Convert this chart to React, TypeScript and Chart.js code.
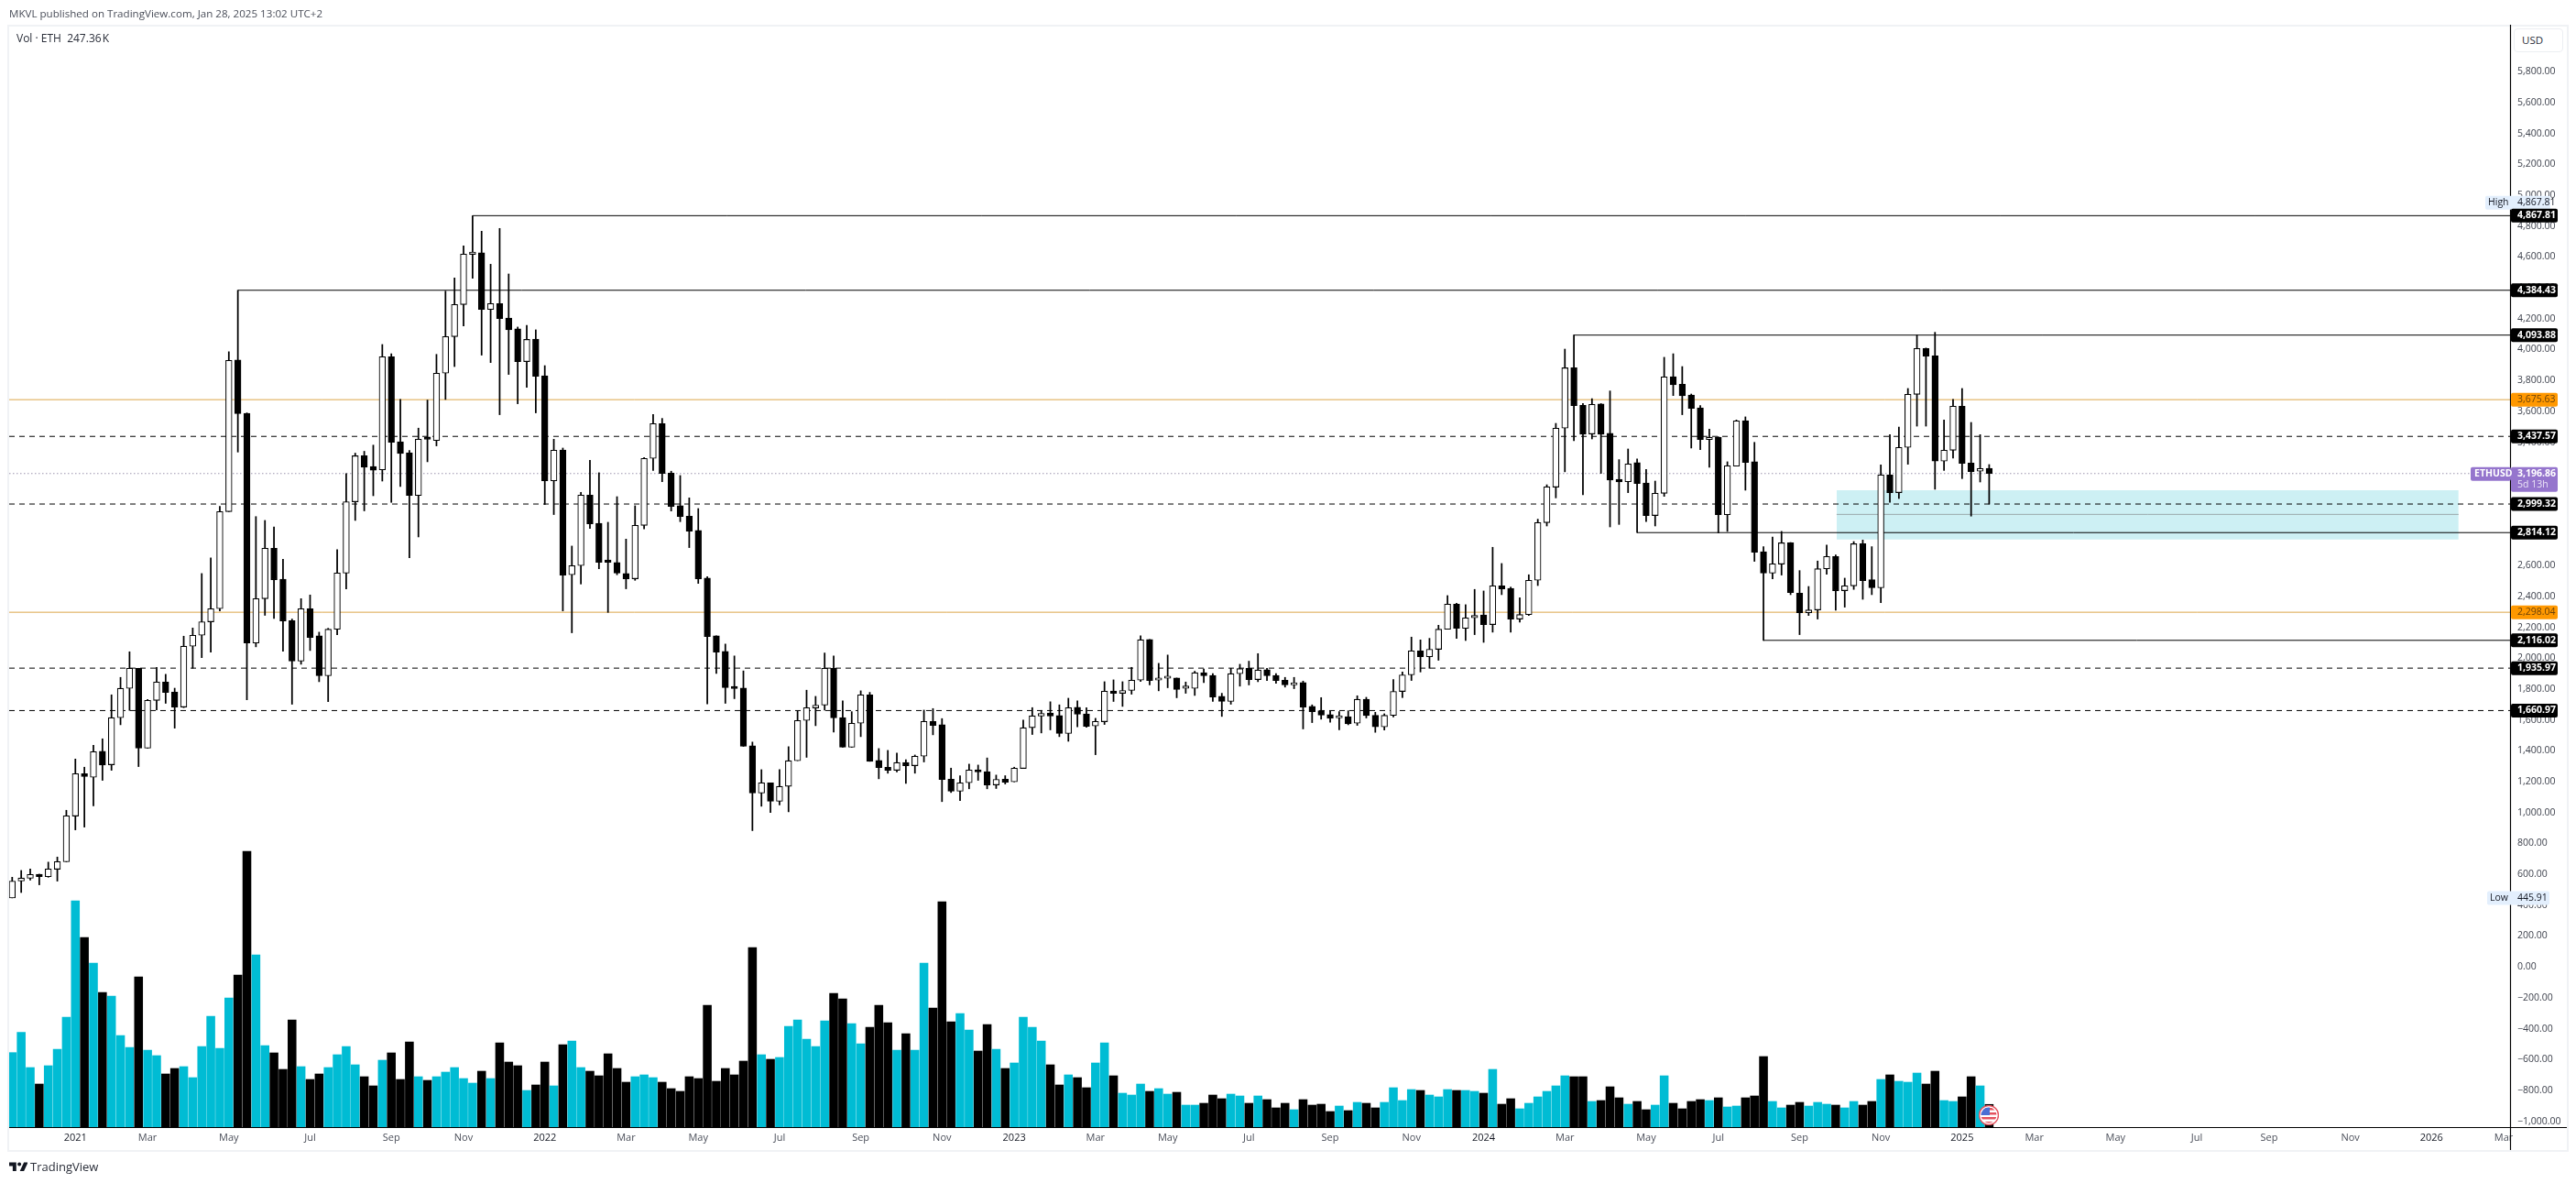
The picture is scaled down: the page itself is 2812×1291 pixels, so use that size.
import React, { useEffect, useRef } from "react";
import { Chart, registerables } from "chart.js";

Chart.register(...registerables);

const opens = [447,556,574,599,585,633,681,977,1252,1229,1397,1310,1615,1805,1935,1417,1727,1846,1781,1684,2078,2149,2236,2321,2950,3932,3587,2099,2386,2713,2512,2244,1981,2321,2145,1886,2188,2551,3014,3312,3243,3221,3954,3403,3332,3055,3420,3411,3847,4084,4292,4617,4627,4260,4298,4205,4134,3922,4068,3831,3150,3350,2541,2600,3057,2875,2625,2620,2549,2515,2861,3295,3520,3200,2988,2921,2828,2519,2145,2044,1813,1807,1433,1126,1193,1073,1170,1336,1597,1678,1696,1935,1615,1423,1579,1763,1338,1294,1274,1324,1304,1365,1591,1569,1217,1138,1193,1276,1265,1179,1217,1199,1286,1550,1625,1645,1629,1512,1682,1639,1561,1589,1787,1773,1791,1858,2122,1858,1870,1872,1805,1805,1906,1888,1753,1720,1900,1935,1862,1926,1888,1858,1827,1842,1688,1660,1635,1613,1621,1579,1734,1631,1555,1630,1785,1892,2048,2010,2058,2188,2351,2194,2262,2281,2218,2469,2453,2254,2283,2505,2879,3109,3491,3882,3639,3453,3647,3457,3160,3144,3267,3136,2925,3069,3825,3776,3706,3623,3417,3433,2930,3245,3540,3273,2691,2551,2610,2748,2422,2295,2313,2580,2659,2438,2469,2742,2509,2456,3188,3073,3366,3710,4007,3960,3277,3348,3633,3265,3212,3231];
const highs = [581,625,635,601,679,712,1015,1347,1294,1436,1478,1763,1876,2042,1935,1733,1941,1896,1806,2143,2196,2549,2650,2984,3986,4384,3590,2918,2893,2851,2642,2254,2386,2410,2169,2194,2703,3196,3329,3341,3381,4033,3973,3677,3346,3491,3673,3969,4379,4464,4672,4867,4767,4553,4785,4490,4146,4157,4128,3896,3419,3362,2727,3075,3283,3202,2881,3047,2772,2988,3300,3580,3554,3212,3184,3039,2970,2529,2145,2092,2015,1918,1457,1278,1193,1278,1427,1660,1793,1753,2034,2015,1724,1654,1789,1779,1415,1403,1385,1342,1373,1664,1674,1609,1288,1239,1314,1308,1354,1243,1239,1294,1599,1680,1662,1718,1698,1741,1724,1680,1611,1848,1860,1848,1941,2145,2122,1967,2021,1872,1846,1916,1931,1900,1773,1935,1961,1981,2030,1935,1900,1876,1876,1852,1698,1745,1658,1654,1660,1757,1747,1650,1640,1862,1911,2137,2119,2129,2214,2406,2357,2347,2446,2436,2719,2614,2461,2392,2541,2901,3124,3522,4003,4094,3650,3682,3650,3732,3287,3356,3291,3223,3148,3950,3973,3890,3712,3637,3485,3435,3273,3544,3564,3399,2723,2786,2822,2750,2568,2465,2630,2733,2669,2519,2756,2766,2723,3253,3449,3498,3748,4094,4010,4112,3544,3677,3748,3528,3449,3255];
const lows = [447,482,562,532,581,556,681,888,906,1043,1209,1274,1569,1662,1298,1417,1666,1708,1547,1680,1935,2004,2040,2307,2950,3336,1731,2074,2278,2258,2046,1702,1961,2050,1848,1719,2153,2450,2893,2955,3053,3148,3010,3113,2651,2786,3273,3376,3677,3890,4154,4462,3964,3916,3578,3839,3649,3756,3590,2996,2931,2307,2165,2481,2841,2580,2297,2541,2450,2505,2838,3217,3144,2954,2885,2717,2485,1704,1902,1708,1738,1429,883,1041,1001,1049,1005,1336,1358,1563,1664,1522,1423,1423,1492,1332,1219,1255,1263,1189,1255,1328,1504,1071,1130,1077,1154,1209,1154,1156,1185,1199,1286,1506,1516,1536,1492,1462,1555,1552,1375,1571,1720,1688,1767,1850,1827,1789,1809,1744,1773,1759,1842,1720,1623,1702,1819,1827,1848,1856,1838,1813,1803,1542,1583,1605,1585,1536,1569,1565,1613,1520,1535,1620,1745,1856,1911,1935,1987,2188,2129,2115,2153,2103,2169,2412,2169,2234,2277,2471,2857,3039,3208,3409,3059,3421,3198,2851,2867,3073,2814,2885,2857,3049,3702,3578,3362,3352,3237,2812,2822,3245,3089,2628,2116,2515,2539,2412,2153,2277,2254,2545,2311,2331,2446,2382,2412,2360,3010,3035,3257,3504,3504,3095,3217,3297,3164,2921,3142,2999];
const closes = [556,576,599,585,635,682,979,1252,1233,1395,1308,1615,1805,1935,1417,1727,1846,1779,1684,2078,2149,2236,2321,2950,3930,3585,2099,2386,2713,2509,2242,1981,2321,2135,1886,2188,2553,3014,3312,3238,3218,3954,3400,3326,3055,3419,3419,3847,4084,4292,4619,4622,4260,4298,4201,4128,3922,4066,3827,3150,3348,2539,2600,3057,2871,2622,2622,2551,2515,2861,3295,3520,3198,2984,2919,2824,2515,2141,2040,1809,1803,1429,1126,1193,1073,1170,1336,1597,1680,1696,1935,1613,1423,1579,1763,1332,1292,1274,1324,1304,1365,1591,1565,1215,1138,1193,1276,1263,1179,1215,1197,1288,1550,1627,1643,1625,1512,1680,1637,1558,1591,1787,1773,1791,1858,2120,1856,1870,1872,1797,1807,1906,1886,1749,1720,1900,1933,1862,1924,1886,1856,1827,1840,1684,1654,1631,1611,1621,1575,1734,1629,1555,1630,1785,1892,2048,2010,2058,2188,2351,2194,2262,2277,2218,2469,2450,2254,2283,2505,2879,3111,3491,3882,3637,3451,3645,3451,3154,3142,3259,3132,2925,3069,3823,3772,3700,3619,3417,3431,2930,3247,3538,3269,2687,2551,2612,2748,2426,2295,2313,2580,2659,2438,2469,2742,2503,2456,3188,3073,3366,3710,4007,3958,3277,3348,3633,3263,3210,3229,3197];
const volumes = [813,1033,650,470,670,850,1200,2470,2070,1790,1470,1430,1000,870,1640,840,780,580,640,660,540,880,1210,860,1410,1660,3010,1880,890,810,630,1170,660,520,580,650,790,880,680,550,450,730,810,520,930,550,510,550,600,650,530,480,610,530,920,710,670,400,460,710,450,900,940,650,610,560,800,640,490,550,570,540,490,420,390,550,530,1330,500,640,570,720,1960,790,740,760,1100,1170,960,880,1160,1460,1400,1130,910,1090,1330,1140,840,1020,840,1790,1300,2460,1150,1240,1060,830,1120,850,640,700,1200,1090,940,680,460,570,540,430,700,920,560,370,350,470,390,420,360,380,240,240,260,350,310,360,340,260,340,300,210,260,190,300,240,250,170,230,180,270,260,210,270,430,290,410,400,350,330,410,400,400,390,370,630,250,310,200,260,330,390,450,560,550,550,280,290,440,320,250,280,190,240,560,260,200,280,300,290,320,220,230,320,340,770,280,210,240,270,230,270,250,240,210,280,240,280,520,570,500,490,590,470,610,290,280,330,550,450,247.36];

const yTickValues = [5800,5600,5400,5200,5000,4800,4600,4400,4200,4000,3800,3600,3400,3200,3000,2800,2600,2400,2200,2000,1800,1600,1400,1200,1000,800,600,400,200,0,-200,-400,-600,-800,-1000];
const xTickIndices = [7,15,24,33,42,50,59,68,76,85,94,103,111,120,128,137,146,155,163,172,181,189,198,207,216,224,233,242,250,259,268,276];
const xTickLabels = ["2021","Mar","May","Jul","Sep","Nov","2022","Mar","May","Jul","Sep","Nov","2023","Mar","May","Jul","Sep","Nov","2024","Mar","May","Jul","Sep","Nov","2025","Mar","May","Jul","Sep","Nov","2026","Mar"];

const dashedLevels = [3437.57, 2999.32, 1935.97, 1660.97];
const orangeLevels = [3675.63, 2298.04];
const anchoredLevels = [
  { from: 25, value: 4384.43 },
  { from: 51, value: 4867.81 },
  { from: 173, value: 4093.88 },
  { from: 180, value: 2814.12 },
  { from: 194, value: 2116.02 },
];
const lastPrice = 3196.86;
const zoneTop = 3089;
const zoneBottom = 2770;
const zoneMiddle = 2932;
const zoneFrom = 202.1;
const zoneTo = 271;

const blackTags = [4867.81, 4384.43, 4093.88, 3437.57, 2999.32, 2814.12, 2116.02, 1935.97, 1660.97];
const orangeTags = [3675.63, 2298.04];
const highPrice = 4867.81;
const lowPrice = 445.91;

const X_MIN = -0.335;
const X_MAX = 276.7;
const TEAL = "#00bcd4";
const FONT = "'Open Sans', sans-serif";

const fmt = (v: number) => {
  const s = Math.abs(v).toLocaleString("en-US", { minimumFractionDigits: 2, maximumFractionDigits: 2 });
  return (v < 0 ? "\u2212" : "") + s;
};

function roundedTag(ctx: any, x: number, y: number, w: number, h: number, bg: string) {
  ctx.fillStyle = bg;
  ctx.beginPath();
  ctx.roundRect(x, y, w, h, 2);
  ctx.fill();
}

const overlayPlugin = {
  id: "overlay",
  afterDraw(chart: any) {
    const { ctx, scales } = chart;
    const yS = scales.y;
    ctx.save();
    ctx.strokeStyle = "#000";
    ctx.lineWidth = 1.2;
    ctx.beginPath();
    ctx.moveTo(2740.5, 27);
    ctx.lineTo(2740.5, 1255);
    ctx.moveTo(10, 1230.5);
    ctx.lineTo(2802, 1230.5);
    ctx.stroke();

    ctx.textBaseline = "middle";
    ctx.textAlign = "left";
    const tx = 2748;
    const tagL = 2741;
    const tagW = 51;
    const tagH = 15;

    const hy = yS.getPixelForValue(highPrice) - 14;
    roundedTag(ctx, 2713, hy - 7.5, 71, tagH, "#e3effd");
    ctx.font = `10.5px ${FONT}`;
    ctx.fillStyle = "#131722";
    ctx.fillText("High", 2716, hy);
    ctx.fillText(fmt(highPrice), tx, hy);
    const ly = yS.getPixelForValue(lowPrice);
    roundedTag(ctx, 2715, ly - 7.5, 68, tagH, "#e3effd");
    ctx.fillStyle = "#131722";
    ctx.fillText("Low", 2718, ly);
    ctx.fillText(fmt(lowPrice), tx, ly);

    for (const v of blackTags) {
      const y = yS.getPixelForValue(v);
      roundedTag(ctx, tagL, y - 7.5, tagW, tagH, "#000");
      ctx.font = `bold 10.5px ${FONT}`;
      ctx.fillStyle = "#fff";
      ctx.fillText(fmt(v), tx, y);
    }
    for (const v of orangeTags) {
      const y = yS.getPixelForValue(v);
      roundedTag(ctx, tagL, y - 7.5, tagW, tagH, "#ff9800");
      ctx.font = `10.5px ${FONT}`;
      ctx.fillStyle = "#6b4208";
      ctx.fillText(fmt(v), tx, y);
    }

    const py = yS.getPixelForValue(lastPrice);
    roundedTag(ctx, 2697, py - 7, 44, 15, "#9575cd");
    roundedTag(ctx, tagL, py - 7, tagW, 27, "#9575cd");
    ctx.fillStyle = "#fff";
    ctx.font = `bold 10.5px ${FONT}`;
    ctx.fillText("ETHUSD", 2701, py + 0.5);
    ctx.fillText(fmt(lastPrice), tx, py + 0.5);
    ctx.font = `10.5px ${FONT}`;
    ctx.fillStyle = "#ece6f7";
    ctx.fillText("5d 13h", tx, py + 12.5);
    ctx.restore();
  },
};

export default function App() {
  const ref = useRef<HTMLCanvasElement | null>(null);

  useEffect(() => {
    const idx = opens.map((_, i) => i);
    const levelSet = (value: number, from: number, color: string, dash: number[], width: number, order: number) => ({
      type: "line" as const,
      data: [{ x: from, y: value }, { x: X_MAX, y: value }],
      borderColor: color,
      borderDash: dash,
      borderWidth: width,
      pointRadius: 0,
      order,
      yAxisID: "y",
    });

    const chart = new Chart(ref.current as HTMLCanvasElement, {
      type: "bar",
      data: {
        datasets: [
          {
            type: "line",
            data: [{ x: zoneFrom, y: zoneTop }, { x: zoneTo, y: zoneTop }],
            borderColor: "rgba(0,0,0,0)",
            borderWidth: 0,
            pointRadius: 0,
            fill: { value: zoneBottom },
            backgroundColor: "#cdf0f4",
            order: 20,
            yAxisID: "y",
          },
          {
            type: "line",
            data: [{ x: zoneFrom, y: zoneMiddle }, { x: zoneTo, y: zoneMiddle }],
            borderColor: "#9aa9ab",
            borderWidth: 1,
            pointRadius: 0,
            order: 19,
            yAxisID: "y",
          },
          ...dashedLevels.map((v) => levelSet(v, X_MIN, "#000", [6, 5], 1, 15)),
          ...orangeLevels.map((v) => levelSet(v, X_MIN, "#dca64a", [], 1, 16)),
          ...anchoredLevels.map((l) => levelSet(l.value, l.from, "#000", [], 1, 14)),
          levelSet(lastPrice, X_MIN, "#9a93ad", [1.5, 2.5], 1, 17),
          {
            type: "bar",
            data: idx.map((i) => ({ x: i, y: volumes[i] })),
            backgroundColor: idx.map((i) => (closes[i] >= opens[i] ? TEAL : "#000")),
            barThickness: 8.9,
            grouped: false,
            order: 10,
            yAxisID: "y2",
          },
          {
            type: "bar",
            data: idx.map((i) => ({ x: i, y: [lows[i], highs[i]] })),
            backgroundColor: "#000",
            barThickness: 1.1,
            grouped: false,
            order: 2,
            yAxisID: "y",
          },
          {
            type: "bar",
            data: idx.map((i) => ({ x: i, y: [opens[i], closes[i]] })),
            backgroundColor: idx.map((i) => (closes[i] >= opens[i] ? "#fff" : "#000")),
            borderColor: "#000",
            borderWidth: 1.1,
            borderSkipped: false,
            minBarLength: 2.5,
            barThickness: 6.8,
            grouped: false,
            order: 1,
            yAxisID: "y",
          },
        ] as any,
      },
      options: {
        responsive: false,
        devicePixelRatio: 1,
        animation: false,
        layout: { autoPadding: false, padding: { left: 10, right: 10, top: 29, bottom: 36 } },
        plugins: { legend: { display: false }, tooltip: { enabled: false } },
        scales: {
          x: {
            type: "linear",
            offset: false,
            min: X_MIN,
            max: X_MAX,
            afterFit(s: any) { s.height = 25; s.paddingLeft = 0; s.paddingRight = 0; },
            afterBuildTicks(s: any) { s.ticks = xTickIndices.map((value) => ({ value })); },
            grid: { display: false, drawTicks: false, offset: false },
            border: { display: false },
            ticks: {
              autoSkip: false,
              maxRotation: 0,
              padding: 5,
              color: (c: any) => (/^20/.test(xTickLabels[xTickIndices.indexOf(c.tick.value)]) ? "#131722" : "#4a4e59"),
              font: { family: FONT, size: 11 },
              callback: (v: any) => xTickLabels[xTickIndices.indexOf(v)],
            },
          },
          y: {
            type: "linear",
            position: "right",
            min: -1038,
            max: 6093,
            afterFit(s: any) { s.width = 62; s.paddingTop = 0; s.paddingBottom = 0; },
            afterBuildTicks(s: any) { s.ticks = yTickValues.map((value) => ({ value })); },
            grid: { display: false, drawTicks: false },
            border: { display: false },
            ticks: {
              autoSkip: false,
              padding: 8,
              crossAlign: "near",
              color: "#3b3f4a",
              font: { family: FONT, size: 10.5 },
              callback: (v: any) => fmt(Number(v)),
            },
          },
          y2: {
            type: "linear",
            display: false,
            min: 0,
            max: 12010,
          },
        },
      } as any,
      plugins: [overlayPlugin],
    });
    return () => chart.destroy();
  }, []);

  const text: React.CSSProperties = { position: "absolute", fontFamily: FONT, whiteSpace: "nowrap" };

  return (
    <div style={{ position: "absolute", left: 0, top: 0, width: 2812, height: 1291, background: "#fff", overflow: "hidden" }}>
      <div style={{ position: "absolute", left: 8, top: 27, width: 2796, height: 1230, boxSizing: "border-box", border: "2px solid #f0f2f5" }} />
      <canvas ref={ref} width={2812} height={1291} style={{ position: "absolute", left: 0, top: 0, display: "block" }} />
      <div style={{ ...text, left: 10, top: 7, fontSize: 11.6, color: "#4a4e59" }}>
        MKVL published on TradingView.com, Jan 28, 2025 13:02 UTC+2
      </div>
      <div style={{ ...text, left: 18, top: 33, fontSize: 12, color: "#2a2e39" }}>
        Vol · ETH&nbsp;&nbsp;247.36&#8202;K
      </div>
      <div style={{ position: "absolute", left: 2744, top: 31, width: 54, height: 26, boxSizing: "border-box", border: "1px solid #eceef2", borderRadius: 4, background: "#fff" }}>
        <div style={{ ...text, left: 8, top: 4, fontSize: 11.5, color: "#2a2e39" }}>USD</div>
      </div>
      <svg style={{ position: "absolute", left: 2160, top: 1206 }} width={22} height={22} viewBox="0 0 22 22">
        <defs><clipPath id="fc"><circle cx="11" cy="11" r="8.5" /></clipPath></defs>
        <circle cx="11" cy="11" r="10.5" fill="#fff" stroke="#e4525e" strokeWidth="1.4" />
        <g clipPath="url(#fc)">
          <rect x="0" y="0" width="22" height="22" fill="#fff" />
          <rect x="0" y="3" width="22" height="2.5" fill="#e4525e" />
          <rect x="0" y="8" width="22" height="2.5" fill="#e4525e" />
          <rect x="0" y="13" width="22" height="2.5" fill="#e4525e" />
          <rect x="0" y="18" width="22" height="2.5" fill="#e4525e" />
          <rect x="2" y="2" width="10" height="9" fill="#4a6fd4" />
        </g>
      </svg>
      <svg style={{ position: "absolute", left: 10, top: 1267 }} width={20} height={12} viewBox="0 0 36 20">
        <path d="M14 2H0v7h7v10h7V2Zm15 17h-8l8-17h8l-8 17Z" fill="#131722" />
        <circle cx="20" cy="5.5" r="3.6" fill="#131722" />
      </svg>
      <div style={{ ...text, left: 33, top: 1264, fontSize: 13, color: "#2a2e39" }}>TradingView</div>
    </div>
  );
}
